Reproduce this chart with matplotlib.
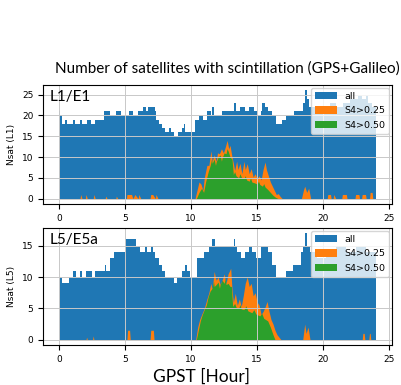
import numpy as np
import matplotlib.pyplot as plt

# L1/E1 - number of tracked satellites (step values)
l1_all_t = [0.0, 0.1, 0.2, 0.45, 0.6, 1.1, 1.25, 1.6, 1.75, 2.1, 2.45, 2.7, 3.4, 3.85, 4.3, 4.7,
            5.3, 5.6, 6.0, 6.4, 6.6, 6.75, 7.25, 7.35, 7.55, 7.8, 8.05, 8.3, 8.45, 8.7, 9.05, 9.3,
            9.45, 9.55, 10.3, 10.6, 10.9, 11.2, 11.5, 11.6, 11.75, 12.35, 13.25, 13.4, 13.7, 14.1,
            14.4, 14.75, 15.0, 15.3, 15.4, 15.6, 15.8, 16.1, 16.45, 16.9, 17.2, 17.8, 18.5, 18.65,
            18.75, 18.9, 19.1, 19.5, 20.0, 20.5, 21.0, 21.5, 22.0, 22.6, 22.9, 23.2, 23.4, 23.7, 24.0]
l1_all_v = [21, 20, 18, 19, 18, 19, 18, 19, 18, 19, 18, 19, 21, 20, 21, 20,
            21, 20, 21, 22, 21, 22, 21, 19, 18, 17, 16, 17, 16, 15, 16, 17,
            18, 16, 19, 20, 19, 21, 20, 22, 20, 21, 23, 21, 22, 21,
            22, 21, 20, 21, 23, 22, 21, 20, 18, 19, 20, 21, 23, 26,
            24, 22, 22, 21, 22, 23, 22, 23, 24, 25, 24, 25, 23, 22, 22]

l1_s425_t = [0.0, 1.6, 1.65, 1.75, 2.0, 2.05, 2.15, 2.6, 2.65, 2.75, 3.5, 3.55, 3.65, 4.3, 4.35, 4.45,
             5.1, 5.15, 5.5, 5.6, 5.75, 6.0, 6.05, 6.2, 6.9, 6.95, 7.1, 7.3, 7.35, 7.5,
             10.3, 10.45, 10.6, 10.75, 10.9, 11.0, 11.2, 11.35, 11.5, 11.6, 11.75, 11.9, 12.0,
             12.15, 12.3, 12.45, 12.6, 12.73, 12.85, 12.95, 13.1, 13.2, 13.3, 13.45, 13.55, 13.7,
             13.85, 14.0, 14.1, 14.25, 14.4, 14.55, 14.7, 14.85, 15.0, 15.15, 15.3, 15.45, 15.6,
             15.7, 15.85, 16.0, 16.15, 16.3, 16.45, 16.6, 16.75, 16.9,
             18.35, 18.5, 18.6, 18.75, 18.9, 19.05, 20.3, 20.35, 20.55, 20.6, 20.75, 20.8, 20.95,
             21.4, 21.45, 21.75, 21.8, 22.4, 22.45, 22.7, 22.75, 22.9, 22.95, 23.2, 23.25,
             23.5, 23.55, 23.7, 23.75, 24.0]
l1_s425_v = [0, 0, 1, 0, 0, 1, 0, 0, 1, 0, 0, 0.6, 0, 0, 0.6, 0,
             0, 1, 1, 0, 1, 0, 1, 0, 0, 1, 1, 0, 1, 0,
             0, 2, 4, 3.5, 2, 5, 8, 8, 11.5, 9, 10.5, 9, 11,
             10.8, 12, 11, 12.5, 14, 12, 12.8, 10, 8.5, 6.8, 9, 7, 8.5,
             6, 9, 7, 8.4, 6, 7.2, 5.2, 6, 4.8, 5.5, 4.5, 7, 8.8,
             7, 5.5, 4, 3, 2, 1, 1.2, 0.5, 0,
             0, 2, 3, 1.5, 2.5, 0, 0, 1, 1, 0, 0, 1, 0,
             0, 1, 1, 0, 0, 1, 1, 0, 0, 1, 1, 0,
             0, 1.5, 1.5, 0, 0]

l1_s450_t = [0.0, 10.4, 10.6, 10.8, 10.95, 11.1, 11.3, 11.45, 11.55, 11.6, 11.75, 11.85, 11.9,
             12.05, 12.2, 12.3, 12.35, 12.5, 12.65, 12.72, 12.8, 12.95, 13.1, 13.2, 13.3, 13.4,
             13.6, 13.7, 13.8, 14.0, 14.1, 14.2, 14.4, 14.5, 14.6, 14.8, 15.0, 15.1, 15.2, 15.4,
             15.5, 15.6, 15.8, 16.0, 16.2, 16.4, 16.6, 24.0]
l1_s450_v = [0, 0, 1.5, 2.5, 1.5, 4, 6.5, 8, 9.5, 8.5, 9.5, 8, 8.8,
             10, 10.5, 9, 9.8, 11, 10.8, 12, 11.5, 10, 9.5, 5.8, 6.5, 5.5,
             5, 6, 5.2, 4.8, 5.5, 4.5, 4.2, 5, 4, 3.8, 3.5, 4.2, 3.4, 3,
             3.6, 2.8, 2.2, 1.5, 0.8, 0.3, 0, 0]

# L5/E5a
l5_all_t = [0.0, 0.2, 0.8, 1.07, 1.27, 1.58, 1.78, 2.03, 2.47, 2.72, 3.48, 3.6, 3.86, 4.2, 5.0,
            5.85, 6.1, 6.55, 6.65, 6.95, 7.1, 7.3, 7.55, 7.8, 8.05, 8.7, 8.95, 9.3, 9.55, 9.7,
            9.95, 10.45, 10.95, 11.35, 11.55, 11.85, 13.25, 13.35, 13.45, 13.75, 14.1, 14.35,
            14.6, 14.9, 15.3, 15.5, 15.55, 15.8, 16.1, 16.45, 17.2, 17.7, 18.3, 18.45, 18.6,
            18.75, 19.0, 19.5, 20.2, 21.0, 21.7, 22.5, 23.2, 24.0]
l5_all_v = [10, 9, 10, 11, 10, 11, 10, 11, 10, 11, 12, 11, 13, 14, 16,
            15, 14, 15, 14, 15, 14, 13, 12, 11, 10, 9, 10, 11, 12, 11,
            10, 13, 14, 15, 16, 15, 16, 15, 14, 13, 14, 15,
            14, 13, 15, 14, 15, 14, 12, 10, 11, 12, 14, 15, 17,
            15, 14, 13, 14, 15, 14, 15, 14, 14]

l5_s425_t = [0.0, 2.05, 2.1, 2.15, 2.55, 2.6, 2.65, 5.15, 5.2, 5.35, 5.4, 6.9, 6.95, 7.15, 7.2,
             10.35, 10.5, 10.65, 10.8, 11.0, 11.2, 11.35, 11.5, 11.6, 11.75, 11.9, 12.05, 12.2,
             12.35, 12.5, 12.65, 12.8, 13.0, 13.1, 13.2, 13.35, 13.5, 13.65, 13.8, 13.95, 14.1,
             14.25, 14.4, 14.55, 14.7, 14.85, 15.0, 15.15, 15.3, 15.45, 15.6, 15.75, 15.9, 16.05,
             16.2, 16.35, 16.5, 16.65, 16.8, 18.45, 18.6, 18.7, 18.85, 19.0,
             22.95, 23.0, 23.1, 23.15, 23.45, 23.5, 23.55, 23.6, 24.0]
l5_s425_v = [0, 0, 0.4, 0, 0, 0.6, 0, 0, 1.5, 1.5, 0, 0, 1.5, 1.5, 0,
             0, 2, 3.2, 4, 5, 6.5, 7.5, 9, 8, 10.9, 9.5, 10, 8.8,
             9.5, 10.5, 9, 10.5, 11.4, 8, 6, 7.4, 5.5, 6.5, 5.3, 7, 9,
             10, 8.5, 9, 7, 7.5, 6, 5.5, 4, 4.5, 5.2, 6.1, 4.5, 3.2,
             2.5, 1.5, 0.8, 0.4, 0, 0, 2.5, 1, 2, 0,
             0, 1, 1, 0, 0, 1, 1, 0, 0]

l5_s450_t = [0.0, 10.4, 10.55, 10.7, 10.85, 11.0, 11.15, 11.3, 11.45, 11.6, 11.7, 11.75, 11.9,
             12.05, 12.15, 12.2, 12.35, 12.5, 12.6, 12.65, 12.8, 12.95, 13.05, 13.15, 13.3, 13.4,
             13.6, 13.7, 13.8, 14.0, 14.15, 14.3, 14.6, 14.75, 14.9, 15.2, 15.35, 15.5, 15.8,
             16.0, 16.2, 16.35, 24.0]
l5_s450_v = [0, 0, 1.5, 3, 4, 4.8, 5.5, 6.9, 7.8, 8.2, 9.3, 8.5, 8.8,
             9.2, 8.2, 8.8, 9.5, 9, 9.8, 8.8, 9, 8.5, 8.5, 5.3, 5.8, 5.2,
             5, 5.6, 4.9, 4.8, 5.4, 4.6, 4.3, 4.8, 4.1, 3.8, 4.2, 3.4, 3.0,
             2.0, 0.8, 0, 0]

panels = [
    ('L1/E1', 'Nsat (L1)', l1_all_t, l1_all_v, l1_s425_t, l1_s425_v, l1_s450_t, l1_s450_v),
    ('L5/E5a', 'Nsat (L5)', l5_all_t, l5_all_v, l5_s425_t, l5_s425_v, l5_s450_t, l5_s450_v),
]

fig = plt.figure(figsize=(4.02, 3.85), dpi=100)
ax1 = fig.add_axes([0.107, 0.470, 0.868, 0.309])
ax2 = fig.add_axes([0.107, 0.104, 0.868, 0.304])

for ax, (name, ylab, ta, va, t1, v1, t2, v2) in zip([ax1, ax2], panels):
    ax.fill_between(ta, va, step='post', color='C0', lw=0, label='all')
    ax.fill_between(t1, v1, color='C1', lw=0, label='S4>0.25')
    ax.fill_between(t2, v2, color='C2', lw=0, label='S4>0.50')
    ax.grid(True, color='#c8c8c8', lw=0.7)
    ax.set_xticks([0, 5, 10, 15, 20, 25])
    ax.tick_params(labelsize=6.5)
    ax.set_ylabel(ylab, fontsize=6.5)
    ax.legend(loc='upper right', fontsize=6.8, handlelength=2.3, handleheight=0.8,
              labelspacing=0.6, borderaxespad=0.3)
    ax.text(0.02, 0.955, name, transform=ax.transAxes, ha='left', va='top',
            fontsize=11, family=['Lato', 'DejaVu Sans'])

ax1.set_yticks([0, 5, 10, 15, 20, 25])
ax2.set_yticks([0, 5, 10, 15])

fig.text(0.565, 0.823, 'Number of satellites with scintillation (GPS+Galileo)',
         ha='center', va='center', fontsize=11, family=['Lato', 'DejaVu Sans'])
fig.text(0.501, 0.022, 'GPST [Hour]', ha='center', va='center', fontsize=12.5,
         family=['Lato', 'DejaVu Sans'])

fig.savefig('out.png', dpi=100)
